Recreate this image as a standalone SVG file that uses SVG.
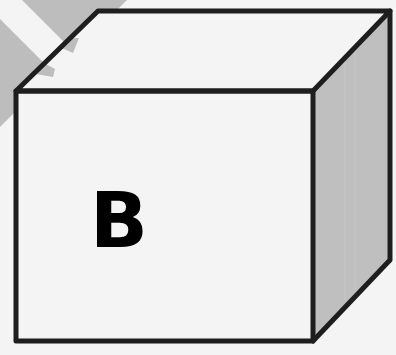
<svg xmlns="http://www.w3.org/2000/svg" width="396" height="355" viewBox="0 0 396 355">
  <style>
    .edge { fill: none; stroke: #1e1e1e; stroke-width: 5; stroke-linejoin: round; stroke-linecap: round; }
    .face { fill: #f4f4f4; stroke: none; }
    .side { fill: #bfbfbf; stroke: none; }
    .band { fill: #bdbdbd; }
    .stripe { fill: #f4f4f4; }
    .label { font-family: "DejaVu Sans", "Liberation Sans", sans-serif; font-weight: bold; font-size: 76px; fill: #000; }
  </style>
  <rect x="0" y="0" width="396" height="355" fill="#f4f4f4"/>
  <g id="backdrop">
    <polygon class="band" points="0,0 127,0 0,127"/>
    <polygon class="stripe" points="0,0 22,0 75,53 54,73 0,19"/>
  </g>
  <g id="cube-B">
    <polygon class="face" points="16,91 98,11 390,11 313,91"/>
    <polygon class="band" points="68,38 79,38 73,53 64,49 58,48"/>
    <polygon class="band" points="44,63 55,69 53,77 36,74"/>
    <polygon class="side" points="313,91 390,11 390,260 313,341"/>
    <line x1="345" y1="60" x2="345" y2="300" stroke="#c6c6c6" stroke-width="1.2"/>
    <line x1="355" y1="50" x2="355" y2="290" stroke="#c6c6c6" stroke-width="1.2"/>
    <rect class="face" x="16" y="91" width="297" height="250"/>
    <polygon class="edge" points="16,91 98,11 390,11 313,91"/>
    <polyline class="edge" points="390,11 390,260 313,341"/>
    <rect class="edge" x="16" y="91" width="297" height="250"/>
    <text class="label" x="119" y="247" text-anchor="middle">B</text>
  </g>
</svg>
